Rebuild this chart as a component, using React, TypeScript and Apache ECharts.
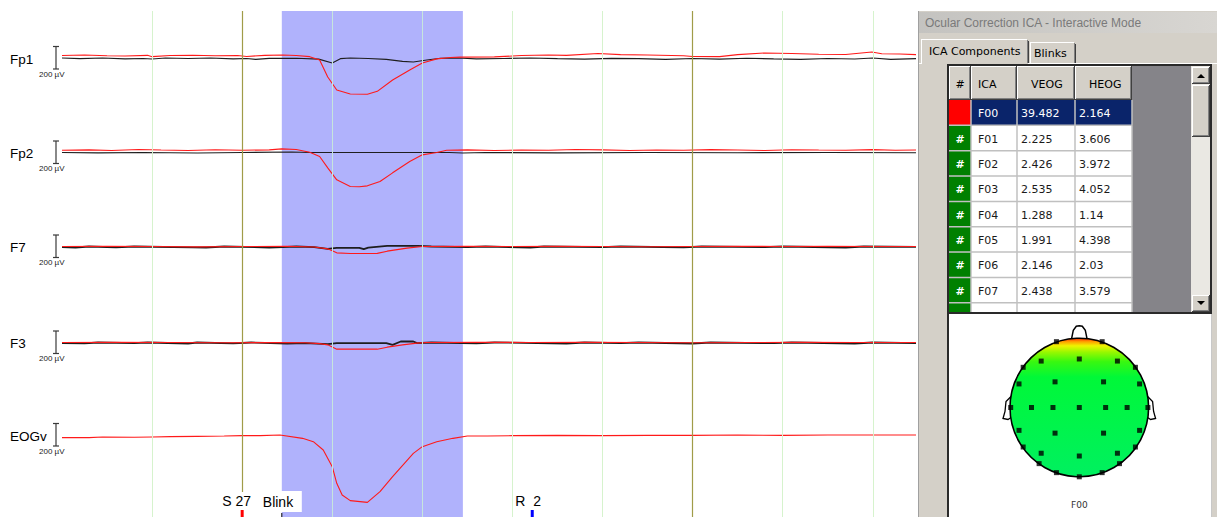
import React, { useEffect, useRef } from 'react';
import * as echarts from 'echarts';

// ---------- data ----------
const channels = ['Fp1', 'Fp2', 'F7', 'F3', 'EOGv'];
const scaleLabel = '200 µV';
const T_MAX = 9.48; // seconds shown
const gridTicks = [1, 2, 3, 4, 5, 6, 7, 8, 9];
const blinkRange = [2.44, 4.45];
const oliveLines = [2, 7];
const markerLabels = ['S 27', 'Blink', 'R  2'];
const markerTimes = [2, 2.44, 5.22];
const markerColors = ['#ff0000', '#000000', '#0000ff'];

// EEG traces [time s, µV] (red = raw, black = corrected)
const fp1Red = [[0,22],[0.25,27],[0.5,20],[0.7,18],[0.95,24],[1.0,12],[1.2,22],[1.45,25],[1.7,20],[1.95,22],[2.05,14],[2.25,24],[2.45,27],[2.6,22],[2.75,12],[2.86,-18],[2.95,-171],[3.05,-288],[3.2,-324],[3.39,-326],[3.5,-300],[3.67,-198],[3.86,-108],[4.0,-45],[4.16,-8],[4.31,4],[4.42,8],[4.8,10],[5.1,22],[5.4,27],[5.6,24],[5.95,40],[6.2,30],[6.5,27],[6.9,20],[7.0,14],[7.3,12],[7.5,30],[7.8,45],[8.1,40],[8.4,34],[8.7,32],[8.99,54],[9.1,38],[9.3,36],[9.48,30]];
const fp1Black = [[0,0],[0.2,-6],[0.45,0],[0.7,-8],[0.9,-4],[1.0,-9],[1.15,0],[1.4,-5],[1.65,0],[1.9,-8],[2.05,-4],[2.15,-12],[2.3,-3],[2.6,-2],[2.85,-10],[3.0,-45],[3.09,-6],[3.2,0],[3.4,-4],[3.6,-12],[3.78,-30],[3.9,-36],[4.05,-18],[4.2,-2],[4.4,0],[4.6,-8],[4.9,-4],[5.2,0],[5.5,-6],[5.8,-10],[6.1,-3],[6.4,-6],[6.7,-12],[7.0,-4],[7.3,-10],[7.6,-2],[7.9,-8],[8.2,-12],[8.5,-4],[8.8,-9],[9.0,0],[9.2,-12],[9.48,-6]];
const fp2Red = [[0,20],[0.3,24],[0.55,18],[0.85,27],[1.1,22],[1.4,18],[1.7,25],[2.0,20],[2.3,24],[2.44,33],[2.6,27],[2.75,2],[2.86,-36],[2.95,-138],[3.05,-246],[3.2,-306],[3.3,-308],[3.39,-300],[3.53,-261],[3.67,-183],[3.86,-81],[4.0,-21],[4.16,0],[4.27,20],[4.5,24],[4.8,18],[5.1,22],[5.4,20],[5.7,27],[6.0,24],[6.3,18],[6.6,22],[6.9,20],[7.2,26],[7.5,22],[7.8,18],[8.1,25],[8.4,22],[8.7,20],[9.0,26],[9.25,20],[9.48,22]];
const fp2Black = [[0,0],[0.4,-3],[0.9,0],[1.5,-4],[2.0,0],[2.55,4],[2.75,0],[4.3,0],[4.45,-5],[4.7,0],[5.5,-3],[6.5,0],[7.5,-2],[8.5,0],[9.48,-2]];
const f7Red = [[0,0],[0.5,2],[1.0,0],[1.5,-3],[2.0,0],[2.5,2],[2.8,-4],[2.95,-21],[3.05,-57],[3.2,-63],[3.5,-62],[3.61,-42],[3.83,-15],[4.0,0],[4.5,2],[5.0,0],[5.5,2],[6.0,0],[6.5,-2],[7.0,0],[7.5,2],[8.0,0],[8.5,2],[9.0,0],[9.48,0]];
const f7Black = [[0,-6],[0.15,-9],[0.3,0],[0.6,-8],[0.8,0],[1.45,-7],[1.6,-9],[1.8,0],[2.3,-9],[2.45,-6],[2.6,0],[2.8,-6],[2.95,-21],[3.05,-12],[3.3,-12],[3.35,-24],[3.4,-10],[3.61,6],[3.95,6],[4.1,0],[4.5,-5],[4.7,0],[5.2,-9],[5.35,0],[6.0,-6],[6.2,0],[6.9,-8],[7.1,0],[7.8,-6],[8.0,0],[8.7,-9],[8.9,0],[9.48,-4]];
const f3Red = [[0,0],[0.6,2],[1.2,0],[1.8,-2],[2.4,0],[2.7,-2],[2.86,-10],[2.95,-21],[3.05,-60],[3.5,-60],[3.61,-42],[3.78,-21],[3.94,-6],[4.05,0],[4.6,2],[5.2,0],[5.8,2],[6.4,0],[7.0,-2],[7.6,0],[8.2,2],[8.8,0],[9.48,0]];
const f3Black = [[0,-6],[0.25,-8],[0.4,0],[0.8,-6],[0.95,0],[1.4,-9],[1.5,0],[1.9,-7],[2.1,0],[2.5,-9],[2.7,-5],[2.95,-15],[3.05,-6],[3.6,-6],[3.67,-21],[3.76,9],[3.9,9],[3.94,-6],[4.1,0],[4.6,-8],[4.8,0],[5.6,-9],[5.8,0],[6.2,-6],[6.4,0],[7.0,-9],[7.2,0],[7.9,-6],[8.1,0],[8.8,-9],[9.0,0],[9.48,-6]];
const eogvRed = [[0,-24],[0.3,-24],[0.45,-18],[0.8,-20],[1.0,-18],[1.2,-15],[1.5,-12],[1.8,-9],[2.0,-6],[2.2,-6],[2.42,0],[2.67,-30],[2.79,-60],[2.9,-135],[3.0,-285],[3.05,-435],[3.11,-540],[3.2,-591],[3.39,-606],[3.53,-510],[3.67,-375],[3.9,-165],[4.0,-105],[4.16,-60],[4.34,-30],[4.5,-9],[4.72,-9],[5.0,-6],[5.5,-3],[6.0,-6],[6.5,-3],[7.0,-3],[7.5,0],[8.0,-3],[8.5,0],[9.0,0],[9.48,0]];
const redTraces = [fp1Red, fp2Red, f7Red, f3Red, eogvRed];
const blackTraces = [fp1Black, fp2Black, f7Black, f3Black, null];

// ICA table
const panelTitle = 'Ocular Correction ICA - Interactive Mode';
const tabLabels = ['ICA Components', 'Blinks'];
const tableHeaders = ['#', 'ICA', 'VEOG', 'HEOG'];
const icaNames = ['F00', 'F01', 'F02', 'F03', 'F04', 'F05', 'F06', 'F07'];
const veogValues = ['39.482', '2.225', '2.426', '2.535', '1.288', '1.991', '2.146', '2.438'];
const heogValues = ['2.164', '3.606', '3.972', '4.052', '1.14', '4.398', '2.03', '3.579'];
const mapLabel = 'F00';

// electrode positions (normalised head coords)
const electrodes = [
  [-0.33, 0.95], [0.33, 0.95],
  [-0.55, 0.67], [0, 0.70], [0.55, 0.67],
  [-0.81, 0.58], [0.81, 0.58],
  [-0.87, 0.34], [-0.35, 0.37], [0.35, 0.37], [0.87, 0.34],
  [-0.99, 0], [-0.69, 0], [-0.38, 0], [0, 0], [0.38, 0], [0.69, 0], [0.99, 0],
  [-0.87, -0.33], [-0.35, -0.37], [0.35, -0.37], [0.87, -0.33],
  [-0.81, -0.57], [0.81, -0.57],
  [-0.55, -0.66], [0, -0.70], [0.55, -0.66],
  [-0.58, -0.81], [0.58, -0.81],
  [-0.33, -0.94], [0.33, -0.94],
  [0, -1.0],
];

// ---------- layout ----------
const PLOT_LEFT = 62;
const PLOT_W = 854;
const CH_BASE = [58, 152.5, 246.5, 342.5, 435];
const HEAD = { cx: 1079.3, cy: 407.5, r: 69.3 };
const FONT = '"Liberation Sans", Arial, sans-serif';
const UI = '"DejaVu Sans", Verdana, sans-serif';

function buildStatic(): any[] {
  const g: any[] = [];
  const rect = (x: number, y: number, w: number, h: number, fill: any, z = 10, extra: any = {}) =>
    g.push({ type: 'rect', silent: true, z, shape: { x, y, width: w, height: h }, style: { fill, ...extra } });
  const line = (x1: number, y1: number, x2: number, y2: number, stroke: string, lw = 1, z = 12) =>
    g.push({ type: 'line', silent: true, z, shape: { x1, y1, x2, y2 }, style: { stroke, lineWidth: lw } });
  const text = (x: number, y: number, s: string, font: string, fill: string, align = 'left', z = 14) =>
    g.push({ type: 'text', silent: true, z, x, y, style: { text: s, font, fill, textAlign: align, textVerticalAlign: 'middle' } });
  const bevel = (x: number, y: number, w: number, h: number) => {
    rect(x, y, w, h, '#d4d0c8', 11);
    line(x + 0.5, y, x + 0.5, y + h, '#ffffff');
    line(x, y + 0.5, x + w, y + 0.5, '#ffffff');
    line(x + w - 1.5, y + 1, x + w - 1.5, y + h - 1, '#808080');
    line(x + 1, y + h - 1.5, x + w - 1, y + h - 1.5, '#808080');
    line(x + w - 0.5, y, x + w - 0.5, y + h, '#404040');
    line(x, y + h - 0.5, x + w, y + h - 0.5, '#404040');
  };

  // channel labels & scale bars
  channels.forEach((name, i) => {
    const b = CH_BASE[i];
    text(10, b + 1, name, '13.5px ' + FONT, '#000000');
    line(56, b - 11.5, 56, b + 11, '#3a3a3a', 1.2);
    line(53, b - 11.5, 59, b - 11.5, '#3a3a3a', 1.2);
    line(53, b + 11, 59, b + 11, '#3a3a3a', 1.2);
    text(39, b + 16, scaleLabel, '8px ' + FONT, '#222222');
  });

  // window panel
  rect(918, 11, 299, 506, '#d4d0c8', 10);
  line(918.5, 11, 918.5, 517, '#a0a0a0');
  rect(919, 12, 298, 21, new echarts.graphic.LinearGradient(0, 0, 1, 0, [
    { offset: 0, color: '#c4c3c0' }, { offset: 1, color: '#d8d6d2' },
  ]), 11);
  text(925, 22.5, panelTitle, '12px ' + FONT, '#7a7a7a');

  // tabs
  line(919, 63.5, 1217, 63.5, '#ffffff');
  rect(921, 39, 107, 25, '#d4d0c8', 12);
  line(921.5, 39, 921.5, 64, '#ffffff', 1, 13);
  line(921, 39.5, 1027, 39.5, '#ffffff', 1, 13);
  line(1027.5, 40, 1027.5, 63, '#808080', 1, 13);
  line(1028.5, 41, 1028.5, 63, '#404040', 1, 13);
  line(1030.5, 43, 1030.5, 63, '#ffffff', 1, 13);
  line(1030, 42.5, 1074, 42.5, '#ffffff', 1, 13);
  line(1074.5, 43, 1074.5, 63, '#808080', 1, 13);
  line(1075.5, 44, 1075.5, 63, '#404040', 1, 13);
  text(929, 51.5, tabLabels[0], '11px ' + UI, '#000000');
  text(1034, 53.5, tabLabels[1], '11px ' + UI, '#000000');

  // table frame
  rect(947, 64, 265, 453, '#ffffff', 11);
  line(948, 64, 948, 517, '#2a2a2a', 2, 13);
  line(947, 65, 1212, 65, '#2a2a2a', 2, 13);
  line(1211, 64, 1211, 314, '#2a2a2a', 2, 13);
  line(948, 313, 1212, 313, '#2a2a2a', 2, 13);
  line(1211.5, 314, 1211.5, 517, '#c8c8c8', 1, 13);

  const colX = [949, 971, 1017, 1075, 1132];
  const headTop = 66, headH = 34, rowH = 25.35;
  const textX = [960, 978, 1021, 1079];
  const headTextX = [960, 978, 1031, 1089];
  for (let c = 0; c < 4; c++) {
    bevel(colX[c], headTop, colX[c + 1] - colX[c], headH);
    text(headTextX[c], headTop + headH / 2 + 1, tableHeaders[c], '11px ' + UI, '#000000', c === 0 ? 'center' : 'left');
  }
  rect(1132, 66, 59, 247, '#858489', 11);
  const nRows = icaNames.length;
  for (let r = 0; r <= nRows; r++) {
    const y = headTop + headH + r * rowH;
    const h = r < nRows ? rowH : 313 - y;
    const sel = r === 0;
    rect(colX[0], y, colX[1] - colX[0], h, sel ? '#ff0000' : '#008000', 11);
    for (let c = 1; c < 4; c++) rect(colX[c], y, colX[c + 1] - colX[c], h, sel ? '#0a246a' : '#ffffff', 11);
    for (let c = 1; c <= 4; c++) line(colX[c], y, colX[c], y + h, '#c0c0c0', 1.5);
    line(colX[0], y + h, colX[4], y + h, '#c0c0c0', 1.5);
    if (r < nRows) {
      const cy = y + rowH / 2 + 1;
      if (!sel) text(textX[0], cy, '#', 'bold 11px ' + UI, '#ffffff', 'center');
      const col = sel ? '#ffffff' : '#1a1a1a';
      text(textX[1], cy, icaNames[r], '11px ' + UI, col);
      text(textX[2], cy, veogValues[r], '11px ' + UI, col);
      text(textX[3], cy, heogValues[r], '11px ' + UI, col);
    }
  }
  // scrollbar
  rect(1191, 66, 19, 247, '#eae8e3', 11);
  bevel(1192, 67, 18, 17);
  g.push({ type: 'polygon', silent: true, z: 14, shape: { points: [[1197, 78], [1205, 78], [1201, 74]] }, style: { fill: '#000' } });
  bevel(1192, 85, 18, 52);
  bevel(1192, 295, 18, 17);
  g.push({ type: 'polygon', silent: true, z: 14, shape: { points: [[1197, 301], [1205, 301], [1201, 305]] }, style: { fill: '#000' } });

  // head map
  const { cx, cy, r } = HEAD;
  g.push({ type: 'polyline', silent: true, z: 12, shape: { points: [[cx - 8, cy - r + 2], [cx - 6, cy - r - 8], [cx - 3, cy - r - 12], [cx, cy - r - 12.5], [cx + 3, cy - r - 12], [cx + 6, cy - r - 8], [cx + 8, cy - r + 2]] }, style: { stroke: '#000', lineWidth: 1.5, fill: null } });
  g.push({ type: 'polyline', silent: true, z: 12, shape: { points: [[cx - r + 1, cy - 11], [cx - r - 4, cy - 6], [cx - r - 5, cy + 4], [cx - r - 7, cy + 11], [cx - r - 2, cy + 12], [cx - r + 1, cy + 10]] }, style: { stroke: '#000', lineWidth: 1.3, fill: null } });
  g.push({ type: 'polyline', silent: true, z: 12, shape: { points: [[cx + r - 1, cy - 11], [cx + r + 4, cy - 6], [cx + r + 5, cy + 4], [cx + r + 7, cy + 11], [cx + r + 2, cy + 12], [cx + r - 1, cy + 10]] }, style: { stroke: '#000', lineWidth: 1.3, fill: null } });
  g.push({
    type: 'circle', silent: true, z: 13, shape: { cx, cy, r },
    style: {
      stroke: '#000', lineWidth: 1.6,
      fill: new echarts.graphic.LinearGradient(0, 0, 0, 1, [
        { offset: 0, color: '#ff2a00' },
        { offset: 0.025, color: '#ffa000' },
        { offset: 0.055, color: '#eef400' },
        { offset: 0.1, color: '#98f800' },
        { offset: 0.17, color: '#38f810' },
        { offset: 0.28, color: '#00f838' },
        { offset: 1, color: '#00f060' },
      ]),
    },
  });
  text(cx, 505, mapLabel, '9px ' + UI, '#333333', 'center');
  return g;
}

export default function App() {
  const ref = useRef<HTMLDivElement>(null);
  useEffect(() => {
    if (!ref.current) return;
    const chart = echarts.init(ref.current, null, { renderer: 'svg' });
    const n = channels.length;
    const grids: any[] = channels.map((_, i) => ({ left: PLOT_LEFT, width: PLOT_W, top: CH_BASE[i] - 40, height: 120 }));
    grids.push({ left: PLOT_LEFT, width: PLOT_W, top: 11, height: 506 });
    grids.push({ left: HEAD.cx - HEAD.r, width: HEAD.r * 2, top: HEAD.cy - HEAD.r, height: HEAD.r * 2 });
    const xAxes: any[] = [];
    const yAxes: any[] = [];
    for (let i = 0; i < n; i++) {
      xAxes.push({ type: 'value', gridIndex: i, min: 0, max: T_MAX, show: false });
      yAxes.push({ type: 'value', gridIndex: i, min: -720, max: 360, show: false });
    }
    xAxes.push({ type: 'value', gridIndex: n, min: 0, max: T_MAX, show: false });
    yAxes.push({ type: 'value', gridIndex: n, min: 0, max: 1, show: false });
    xAxes.push({ type: 'value', gridIndex: n + 1, min: -1, max: 1, show: false });
    yAxes.push({ type: 'value', gridIndex: n + 1, min: -1, max: 1, show: false });

    const inBlink = (t: number) => t > blinkRange[0] && t < blinkRange[1];
    const vlines: any[] = gridTicks
      .filter((t) => !oliveLines.includes(t))
      .map((t) => ({ xAxis: t, lineStyle: { color: inBlink(t) ? '#c6e6dc' : '#d6f3cd', width: 1, type: 'solid' } }));
    oliveLines.forEach((t, k) => {
      if (k === 0) {
        vlines.push([{ coord: [t, 1], lineStyle: { color: '#a09c48', width: 1.2, type: 'solid' } }, { coord: [t, (517 - 492) / 506] }]);
      } else {
        vlines.push({ xAxis: t, lineStyle: { color: '#a09c48', width: 1.2, type: 'solid' } });
      }
    });

    const series: any[] = [
      {
        type: 'line', xAxisIndex: n, yAxisIndex: n, data: [], z: 1, silent: true,
        markArea: { silent: true, itemStyle: { color: '#b0b2fc', opacity: 1 }, data: [[{ xAxis: blinkRange[0] }, { xAxis: blinkRange[1] }]] },
      },
      {
        type: 'line', xAxisIndex: n, yAxisIndex: n, data: [], z: 2, silent: true,
        markLine: { silent: true, symbol: ['none', 'none'], label: { show: false }, data: vlines },
      },
    ];
    channels.forEach((_, i) => {
      const bl = blackTraces[i];
      if (bl) {
        series.push({ type: 'line', xAxisIndex: i, yAxisIndex: i, data: bl, symbol: 'none', silent: true, z: 3, lineStyle: { color: '#1e1e1e', width: i >= 2 ? 1.8 : 1.1 } });
      }
      series.push({ type: 'line', xAxisIndex: i, yAxisIndex: i, data: redTraces[i], symbol: 'none', silent: true, z: 4, lineStyle: { color: '#ff1a1a', width: 1.1 } });
    });
    series.push({
      type: 'scatter', xAxisIndex: n + 1, yAxisIndex: n + 1, data: electrodes, symbol: 'rect', symbolSize: 5,
      itemStyle: { color: '#000000' }, z: 20, silent: true,
    });

    chart.setOption({
      animation: false,
      backgroundColor: '#ffffff',
      grid: grids, xAxis: xAxes, yAxis: yAxes, series,
    });

    const g = buildStatic();
    markerLabels.forEach((lab, k) => {
      const px = chart.convertToPixel({ xAxisIndex: n }, markerTimes[k]) as number;
      if (k === 1) {
        g.push({ type: 'rect', silent: true, z: 15, shape: { x: px - 24, y: 491, width: 44, height: 21 }, style: { fill: '#ffffff' } });
        g.push({ type: 'text', silent: true, z: 16, x: px - 19, y: 501.5, style: { text: lab, font: '14px ' + FONT, fill: '#000', textAlign: 'left', textVerticalAlign: 'middle' } });
        g.push({ type: 'rect', silent: true, z: 16, shape: { x: px - 0.5, y: 513, width: 1, height: 4 }, style: { fill: markerColors[k] } });
      } else {
        g.push({ type: 'text', silent: true, z: 16, x: px - (k === 0 ? 20 : 17), y: 500.5, style: { text: lab, font: '14px ' + FONT, fill: '#000', textAlign: 'left', textVerticalAlign: 'middle' } });
        g.push({ type: 'rect', silent: true, z: 16, shape: { x: px - 1.5, y: 510, width: 3, height: 7 }, style: { fill: markerColors[k] } });
      }
    });
    chart.setOption({ graphic: g });
    return () => chart.dispose();
  }, []);
  return <div ref={ref} style={{ position: 'absolute', left: 0, top: 0, width: 1217, height: 517, background: '#fff' }} />;
}
